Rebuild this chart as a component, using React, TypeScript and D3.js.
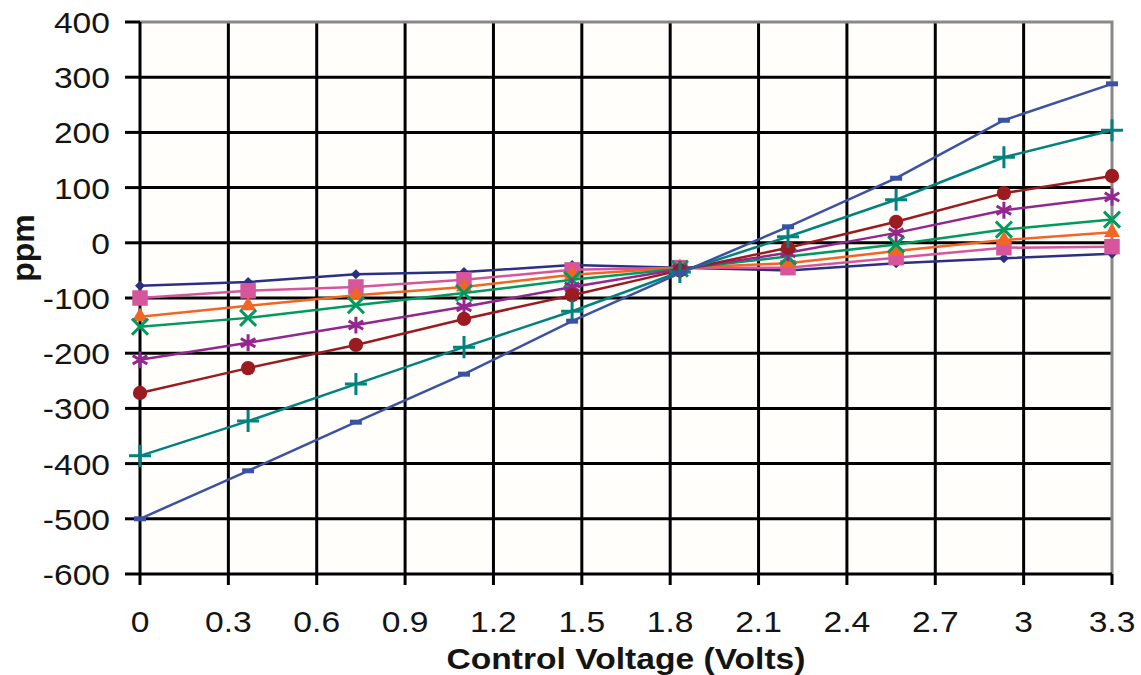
import * as d3 from 'd3';

// control voltage (V) at each measured point
const voltages = [0, 0.367, 0.733, 1.1, 1.467, 1.833, 2.2, 2.567, 2.933, 3.3];

// frequency deviation, ppm, one array per curve
const navySeries = [-78, -71, -57, -53, -40, -45, -50, -37, -28, -20];
const pinkSeries = [-100, -87, -80, -67, -49, -45, -45, -27, -9, -7];
const orangeSeries = [-134, -114, -95, -80, -58, -45, -37, -15, 5, 19];
const greenSeries = [-152, -136, -113, -91, -67, -47, -25, -3, 24, 42];
const purpleSeries = [-212, -181, -149, -116, -80, -48, -18, 18, 59, 83];
const redSeries = [-272, -227, -185, -138, -95, -50, -9, 38, 90, 121];
const tealSeries = [-386, -323, -256, -189, -124, -53, 11, 78, 155, 204];
const blueSeries = [-500, -413, -325, -238, -142, -55, 29, 117, 222, 288];

const xTicks = [0, 0.3, 0.6, 0.9, 1.2, 1.5, 1.8, 2.1, 2.4, 2.7, 3, 3.3];
const yTicks = [400, 300, 200, 100, 0, -100, -200, -300, -400, -500, -600];

const WIDTH = 1141;
const HEIGHT = 675;
const plot = { left: 140, right: 1112, top: 22, bottom: 574 };
const STRETCH = 1.12; // the source image is a bit wider than tall

const series = [
    { values: navySeries, color: '#2B2F86', marker: 'diamond' },
    { values: pinkSeries, color: '#D6569E', marker: 'square' },
    { values: orangeSeries, color: '#F26522', marker: 'triangle' },
    { values: greenSeries, color: '#00995E', marker: 'times' },
    { values: purpleSeries, color: '#93278F', marker: 'asterisk' },
    { values: redSeries, color: '#9B1B20', marker: 'circle' },
    { values: tealSeries, color: '#00827F', marker: 'plus' },
    { values: blueSeries, color: '#3A52A4', marker: 'dash' },
];

function Marker({ type, x, y, color }) {
    const t = `translate(${x},${y})`;
    if (type === 'dash') {
        return <path transform={t} d="M-6,0H6" stroke={color} strokeWidth={5} />;
    }
    if (type === 'diamond') {
        const p = d3.symbol().type(d3.symbolSquare).size(50)();
        return <path transform={`${t} rotate(45)`} d={p} fill={color} />;
    }
    if (type === 'square') {
        return <path transform={t} d={d3.symbol().type(d3.symbolSquare).size(240)()} fill={color} />;
    }
    if (type === 'triangle') {
        return <path transform={t} d={d3.symbol().type(d3.symbolTriangle).size(110)()} fill={color} />;
    }
    if (type === 'circle') {
        return <path transform={t} d={d3.symbol().type(d3.symbolCircle).size(160)()} fill={color} />;
    }
    const strokeTypes = { times: d3.symbolTimes, asterisk: d3.symbolAsterisk, plus: d3.symbolPlus };
    const sizes = { times: 170, asterisk: 200, plus: 160 };
    return (
        <path
            transform={t}
            d={d3.symbol().type(strokeTypes[type]).size(sizes[type])()}
            fill="none"
            stroke={color}
            strokeWidth={3}
        />
    );
}

function Label({ x, y, anchor, children, size = 30, weight = 'normal' }) {
    return (
        <text
            transform={`translate(${x},${y}) scale(${STRETCH},1)`}
            textAnchor={anchor}
            fontFamily="'Liberation Sans', Arial, sans-serif"
            fontSize={size}
            fontWeight={weight}
            fill="#141414"
        >
            {children}
        </text>
    );
}

export default function App() {
    const x = d3.scaleLinear().domain([0, 3.3]).range([plot.left, plot.right]);
    const y = d3.scaleLinear().domain([-600, 400]).range([plot.bottom, plot.top]);

    const line = d3.line<number>()
        .x((_, i) => x(voltages[i]))
        .y(d => y(d));

    return (
        <svg
            width={WIDTH}
            height={HEIGHT}
            style={{ position: 'absolute', left: 0, top: 0, background: '#fff' }}
        >
            <rect
                x={plot.left}
                y={plot.top}
                width={plot.right - plot.left}
                height={plot.bottom - plot.top}
                fill="#FFFEFB"
            />

            {/* gridlines */}
            {yTicks.filter(v => v !== 400 && v !== -600).map(v => (
                <line key={`gy${v}`} x1={plot.left} x2={plot.right} y1={y(v)} y2={y(v)} stroke="#000" strokeWidth={3} />
            ))}
            {xTicks.filter(v => v !== 0 && v !== 3.3).map(v => (
                <line key={`gx${v}`} x1={x(v)} x2={x(v)} y1={plot.top} y2={plot.bottom} stroke="#000" strokeWidth={3} />
            ))}

            {/* plot border (top / right) */}
            <path
                d={`M${plot.left},${plot.top}H${plot.right}V${plot.bottom}`}
                fill="none"
                stroke="#888"
                strokeWidth={3}
            />

            {/* axes */}
            <line x1={plot.left} x2={plot.left} y1={plot.top} y2={plot.bottom} stroke="#000" strokeWidth={3} />
            <line x1={plot.left} x2={plot.right} y1={plot.bottom} y2={plot.bottom} stroke="#000" strokeWidth={3} />
            {yTicks.map(v => (
                <line key={`ty${v}`} x1={plot.left - 15} x2={plot.left} y1={y(v)} y2={y(v)} stroke="#000" strokeWidth={3} />
            ))}
            {xTicks.map(v => (
                <line key={`tx${v}`} x1={x(v)} x2={x(v)} y1={plot.bottom} y2={plot.bottom + 11} stroke="#000" strokeWidth={3} />
            ))}

            {/* curves */}
            {series.map((s, si) => (
                <g key={si}>
                    <path d={line(s.values)} fill="none" stroke={s.color} strokeWidth={2.5} />
                    {s.values.map((v, i) => (
                        <Marker key={i} type={s.marker} x={x(voltages[i])} y={y(v)} color={s.color} />
                    ))}
                </g>
            ))}

            {/* tick labels */}
            {yTicks.map(v => (
                <Label key={`ly${v}`} x={110} y={y(v) + 11} anchor="end">{v}</Label>
            ))}
            {xTicks.map(v => (
                <Label key={`lx${v}`} x={x(v)} y={632} anchor="middle">{v}</Label>
            ))}

            <Label x={(plot.left + plot.right) / 2} y={669} anchor="middle" weight="bold">
                Control Voltage (Volts)
            </Label>
            <text
                transform="translate(34,248) rotate(-90)"
                textAnchor="middle"
                fontFamily="'Liberation Sans', Arial, sans-serif"
                fontSize={32}
                fontWeight="bold"
                fill="#141414"
            >
                ppm
            </text>
        </svg>
    );
}
